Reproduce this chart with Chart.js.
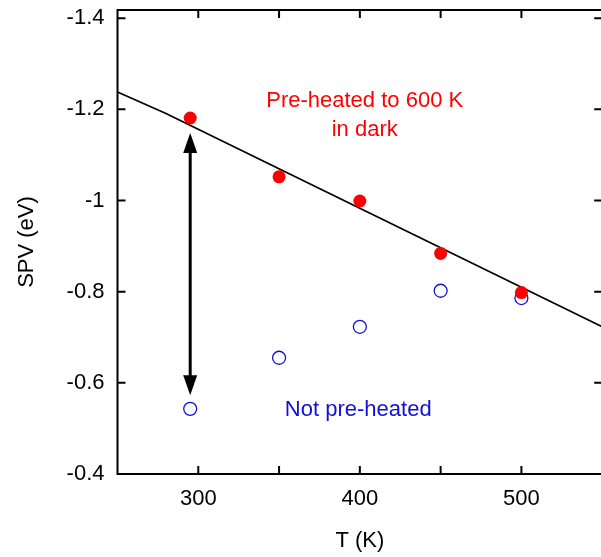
<!DOCTYPE html>
<html>
<head>
<meta charset="utf-8">
<title>SPV vs T</title>
<script src="https://cdn.jsdelivr.net/npm/chart.js@4/dist/chart.umd.min.js"></script>
<style>
  html, body { margin: 0; padding: 0; background: #fff; overflow: hidden; }
  #wrap { position: relative; width: 610px; height: 557px; }
</style>
</head>
<body>
<div id="wrap"><canvas id="spvChart"></canvas></div>
<script>
    // Measured SPV values (eV) against temperature (K)
    const temps = [295, 350, 400, 450, 500];
    const spvPreheated = [-1.181, -1.052, -0.999, -0.884, -0.798];
    const spvNotPreheated = [-0.543, -0.655, -0.723, -0.802, -0.786];

    // Guide line through the pre-heated set
    const fitT = [250, 280, 550];
    const fitSpv = [-1.238, -1.191, -0.723];

    // Double arrow between the two sets at room temperature
    const arrowT = 295;
    const arrowSpv = [-1.148, -0.573];

    // Axis ticks
    const xTicks = [300, 350, 400, 450, 500];
    const xLabelled = [300, 400, 500];
    const yTicks = [-1.4, -1.2, -1.0, -0.8, -0.6, -0.4];

    const RED = '#ff0000';
    const BLUE = '#1010d8';

    Chart.defaults.font.family = '"Liberation Sans", Arial, Helvetica, sans-serif';
    Chart.defaults.font.size = 22;
    Chart.defaults.color = '#000';

    // Fixed axis boxes so the plot frame lands where it should
    function fixBox(s, size) {
      if (s.isHorizontal()) s.height = size; else s.width = size;
      s.paddingTop = 0;
      s.paddingBottom = 0;
      s.paddingLeft = 0;
      s.paddingRight = 0;
    }

    // Frame, inward tick marks, arrow and text notes
    const decorations = {
      id: 'decorations',
      afterDatasetsDraw(chart) {
        const { ctx, chartArea: a, scales: { x, y } } = chart;
        ctx.save();
        ctx.strokeStyle = '#000';
        ctx.lineWidth = 2;
        ctx.strokeRect(a.left, a.top, a.right - a.left, a.bottom - a.top);

        const tl = 8;
        ctx.beginPath();
        xTicks.forEach(v => {
          const px = x.getPixelForValue(v);
          ctx.moveTo(px, a.bottom); ctx.lineTo(px, a.bottom - tl);
          ctx.moveTo(px, a.top); ctx.lineTo(px, a.top + tl);
        });
        yTicks.forEach(v => {
          const py = y.getPixelForValue(v);
          ctx.moveTo(a.left, py); ctx.lineTo(a.left + tl, py);
          ctx.moveTo(a.right, py); ctx.lineTo(a.right - tl, py);
        });
        ctx.stroke();

        // arrow
        const ax = x.getPixelForValue(arrowT);
        const y1 = y.getPixelForValue(arrowSpv[0]);
        const y2 = y.getPixelForValue(arrowSpv[1]);
        const headLen = 20, headHalf = 7;
        ctx.lineWidth = 3;
        ctx.beginPath();
        ctx.moveTo(ax, y1 + headLen - 2);
        ctx.lineTo(ax, y2 - headLen + 2);
        ctx.stroke();
        ctx.fillStyle = '#000';
        ctx.beginPath();
        ctx.moveTo(ax, y1);
        ctx.lineTo(ax - headHalf, y1 + headLen);
        ctx.lineTo(ax + headHalf, y1 + headLen);
        ctx.closePath();
        ctx.fill();
        ctx.beginPath();
        ctx.moveTo(ax, y2);
        ctx.lineTo(ax - headHalf, y2 - headLen);
        ctx.lineTo(ax + headHalf, y2 - headLen);
        ctx.closePath();
        ctx.fill();

        // notes
        ctx.font = '22px "Liberation Sans", Arial, sans-serif';
        ctx.textAlign = 'center';
        ctx.textBaseline = 'middle';
        ctx.fillStyle = RED;
        const nx = x.getPixelForValue(403);
        const ny = y.getPixelForValue(-1.218);
        ctx.fillText('Pre-heated to 600 K', nx, ny);
        ctx.fillText('in dark', nx, ny + 29);
        ctx.fillStyle = BLUE;
        ctx.fillText('Not pre-heated', x.getPixelForValue(399), y.getPixelForValue(-0.54));
        ctx.restore();
      }
    };

    function initChart() {
      const ctx = document.getElementById('spvChart').getContext('2d');
      new Chart(ctx, {
        type: 'scatter',
        data: {
          datasets: [{
            label: 'Pre-heated to 600 K in dark',
            data: temps.map((t, i) => ({ x: t, y: spvPreheated[i] })),
            pointRadius: 6.5,
            pointBackgroundColor: RED,
            pointBorderWidth: 0,
            showLine: false
          }, {
            label: 'Not pre-heated',
            data: temps.map((t, i) => ({ x: t, y: spvNotPreheated[i] })),
            pointRadius: 6.5,
            pointBackgroundColor: 'rgba(0,0,0,0)',
            pointBorderColor: BLUE,
            pointBorderWidth: 1.3,
            showLine: false
          }, {
            label: 'guide',
            data: fitT.map((t, i) => ({ x: t, y: fitSpv[i] })),
            showLine: true,
            borderColor: '#000',
            borderWidth: 1.8,
            pointRadius: 0,
            tension: 0
          }]
        },
        options: {
          responsive: true,
          maintainAspectRatio: false,
          animation: false,
          layout: { padding: { top: 10, right: 2.5, left: 0, bottom: 0 } },
          plugins: {
            legend: { display: false },
            tooltip: { enabled: false }
          },
          scales: {
            x: {
              type: 'linear',
              min: 250,
              max: 550,
              afterBuildTicks: s => { s.ticks = xTicks.map(v => ({ value: v })); },
              afterFit: s => fixBox(s, 83),
              grid: { display: false, drawTicks: false },
              border: { display: false },
              ticks: {
                padding: 12,
                maxRotation: 0,
                autoSkip: false,
                callback: v => xLabelled.includes(v) ? String(v) : ''
              },
              title: {
                display: true,
                text: 'T (K)',
                padding: { top: 0, bottom: 3 }
              }
            },
            y: {
              type: 'linear',
              reverse: true,
              min: -1.418,
              max: -0.4,
              afterBuildTicks: s => { s.ticks = yTicks.map(v => ({ value: v })); },
              afterFit: s => fixBox(s, 117.5),
              grid: { display: false, drawTicks: false },
              border: { display: false },
              ticks: {
                padding: 13,
                autoSkip: false,
                callback: v => String(Math.round(v * 10) / 10)
              },
              title: {
                display: true,
                text: 'SPV (eV)',
                padding: { top: 14, bottom: 0 }
              }
            }
          }
        },
        plugins: [decorations]
      });
    }

    document.addEventListener('DOMContentLoaded', initChart);
</script>
</body>
</html>
